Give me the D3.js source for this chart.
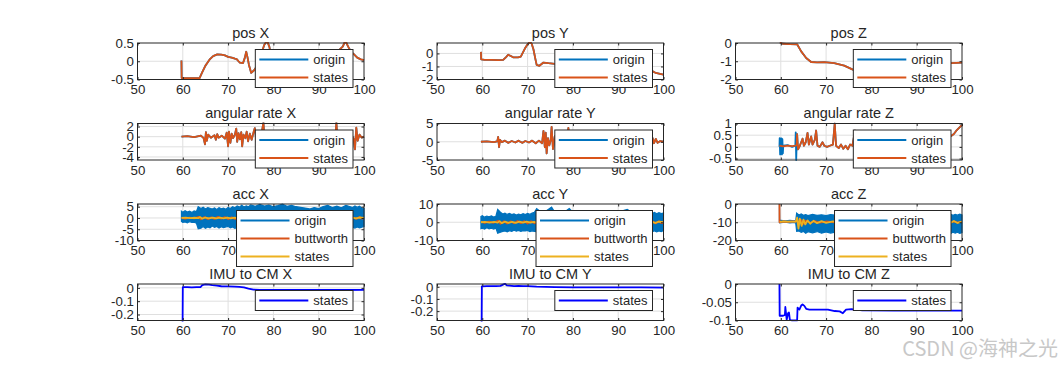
<!DOCTYPE html>
<html>
<head>
<meta charset="utf-8">
<script src="https://cdn.jsdelivr.net/npm/d3@7"></script>
<style>
  body { margin: 0; background: #fff; }
  text { font-family: "Liberation Sans", Arial, sans-serif; fill: #262626; }
</style>
</head>
<body>
<svg id="fig" width="1063" height="367"></svg>
<script>
// ---- data: [time, value] ----
var xTicks = [50, 60, 70, 80, 90, 100];

var posX = [[59.7,0.02],[59.75,-0.46],[61,-0.46],[62.5,-0.46],[63.7,-0.46],[64.3,-0.3],[65,-0.12],[65.4,-0.05],[66,0.06],[66.7,0.14],
  [67.6,0.19],[68.5,0.18],[69.3,0.16],[70,0.12],[70.8,0.1],[71.5,0.07],[71.9,0.06],[72.3,0.0],[72.6,-0.04],[73.3,-0.05],
  [73.7,0.1],[74,0.26],[74.3,0.1],[74.6,-0.1],[75.1,-0.32],[75.8,-0.24],[76.5,-0.1],[77.3,0.2],[78,0.45],[78.6,0.56],
  [79.1,0.4],[79.6,0.1],[80.5,-0.1],[82,0.0],[84,0.1],[86,0.05],[88,-0.1],[90,0.0],[92,0.15],[94,0.25],[95.3,0.4],
  [95.9,0.56],[96.5,0.4],[97.2,0.25],[97.7,0.2],[98.5,0.1],[99.3,0.05],[100,0.03]];

var posY = [[59.7,0.12],[59.75,-0.45],[60.5,-0.5],[62,-0.5],[63.5,-0.52],[64.6,-0.5],[65.2,-0.3],[65.7,-0.1],[66.3,-0.2],[66.8,-0.3],
  [67.9,-0.3],[68.5,-0.25],[69.4,0.37],[70,0.7],[70.5,0.87],[70.9,0.75],[71.3,0.3],[71.7,-0.4],[72,-0.88],[72.6,-0.95],
  [73.5,-0.7],[74.6,-0.75],[76,-0.8],[78,-0.9],[80,-1.0],[84,-1.1],[88,-1.2],[92,-1.25],[95,-1.3],[97,-1.3],
  [97.7,-1.38],[98.3,-1.5],[99,-1.55],[100,-1.63]];

var posZ = [[59.8,0.03],[60.4,-0.04],[62,-0.06],[63.6,-0.07],[64.5,-0.46],[65.6,-0.82],[66.7,-1.04],[68,-1.06],[69.6,-1.05],[71.8,-1.1],
  [74,-1.24],[75.9,-1.46],[78,-1.55],[80,-1.5],[84,-1.35],[88,-1.25],[92,-1.15],[95,-1.1],[97.6,-1.1],[100,-1.07]];

var rateX = [[59.7,0],[61,0.1],[62.5,-0.1],[64,0.2],[64.6,-0.3],[64.9,-1.5],[65.1,0.9],[65.3,-0.8],[65.6,0.4],[66.2,-0.2],
  [67,0.3],[67.3,-0.6],[67.6,0.5],[67.9,-0.2],[68.6,0.2],[69.3,-0.4],[69.7,0.8],[70.0,-1.9],[70.2,1.0],[70.5,-1.2],
  [70.8,0.6],[71.1,-0.3],[71.5,0.4],[71.8,1.6],[72.0,-1.0],[72.3,0.7],[72.6,-0.5],[72.9,0.9],[73.1,-1.9],[73.4,0.4],
  [73.8,-0.3],[74.1,1.0],[74.4,-0.9],[74.8,0.6],[75.2,-0.6],[75.6,0.8],[75.9,1.7],[76.3,-1.2],[76.7,0.9],[77.1,-0.5],
  [77.5,1.2],[77.8,2.8],[78.1,-1.5],[78.5,0.6],[79,-0.4],[80,0.5],[81.5,-0.8],[83,0.6],[85,-0.5],[87,0.4],
  [89,-0.6],[91,0.7],[93,0.5],[93.6,-1.2],[93.9,2.8],[94.2,-1.0],[94.6,0.6],[95.2,-0.3],[96,0.4],[96.8,-0.5],
  [97.3,0.3],[97.7,-0.4],[98.0,-2.5],[98.3,1.8],[98.6,-0.8],[99,0.4],[99.5,-0.2],[100,0]];

var rateY = [[59.7,0],[61,0.1],[62.5,-0.1],[63.3,0.1],[63.5,1.3],[63.7,-1.5],[63.9,0.5],[64.3,-0.1],[65,0.3],[65.7,-0.3],
  [66.5,0.2],[67.3,-0.2],[68,0.3],[68.8,-0.3],[69.5,0.2],[70.3,-0.2],[71,0.3],[71.8,-0.4],[72.5,0.3],[73.2,-0.4],
  [73.5,3.0],[73.8,-1.5],[74.0,2.5],[74.2,-3.2],[74.5,1.0],[74.8,-1.0],[75.1,0.5],[75.3,4.1],[75.6,-2.0],[76,1.5],
  [76.5,-1],[77,0.8],[77.5,-0.6],[78,1.2],[78.6,-0.8],[79.0,3.8],[79.3,-1.0],[80,0.5],[82,-0.4],[84,0.3],
  [86,-0.3],[88,0.4],[90,-0.3],[92,0.3],[94,-0.3],[96,0.4],[97.3,-0.2],[97.6,1.0],[97.9,-0.4],[98.3,0.8],
  [98.7,-0.3],[99.3,0.2],[100,0]];

var rateZ = [[63.5,0.1],[63.6,0.55],[63.8,-0.1],[64.2,0.05],[64.8,0.35],[65.1,0.05],[65.5,0.2],[65.9,0.6],[66.2,0.1],[66.7,0.45],
  [67.0,0.1],[67.5,0.3],[67.8,0.7],[68.1,0.05],[68.6,0.0],[69.2,0.2],[69.6,0.05],[70.2,0.0],[70.8,0.05],[71.5,0.1],
  [71.9,1.0],[72.2,0.05],[72.8,-0.05],[73.3,0.1],[73.8,-0.08],[74.3,0.05],[74.8,-0.1],[75.3,0.1],[75.8,0.05],[76.4,0.7],
  [76.8,0.1],[78,0.2],[80,0.3],[82,0.4],[84.6,0.65],[85,0.3],[88,0.2],[91,0.3],[94,0.35],[96,0.4],
  [97.6,0.47],[98.2,0.55],[98.7,0.68],[99.3,0.8],[99.8,0.9],[100,0.92]];
var rateZStart = [[59.7,0.05],[60.5,0.02],[61.5,0.05],[62.5,0.03],[63.3,0.05]];
var rateZBurst = [[59.7,0],[59.75,0.37],[59.85,-0.32],[59.95,0.35],[60.05,-0.3],[60.15,0.36],[60.25,-0.32],[60.35,0.33],
  [60.45,-0.28],[60.55,0.05],[61.5,0.08],[62.5,0.0],[63.2,0.05],[63.3,0.62],[63.4,-0.56]];

// acc "origin" noise envelope: [time, high, low]
var accXBand = [[59.7,3.0,-1.5],[60,2.5,-2.0],[60.5,3.2,-1.8],[61,2.6,-2.2],[61.5,3.0,-1.6],[62,2.4,-2.0],[62.5,3.1,-1.9],[63,2.8,-2.3],
  [63.4,5.0,-4.8],[64,4.2,-4.5],[64.5,4.8,-3.8],[65,4.0,-4.6],[65.5,4.6,-4.0],[66,4.3,-4.4],[66.5,4.0,-3.6],[67,4.5,-4.2],
  [67.5,3.8,-3.8],[68,4.6,-4.5],[68.5,4.1,-3.9],[69,4.4,-4.3],[69.5,3.9,-4.0],[70,4.7,-3.7],[70.5,4.2,-4.4],[71,5.0,-4.0],
  [71.5,4.5,-4.6],[72,5.3,-4.3],[72.5,4.8,-4.5],[73,5.6,-4.6],[73.5,4.9,-4.2],[74,5.4,-4.8],[74.5,5.0,-4.5],[75,5.8,-4.4],
  [76,5.2,-4.7],[77,6.0,-4.8],[78,5.3,-4.5],[79,5.7,-4.6],[80,5.0,-4.4],[81,5.5,-4.7],[82,6.1,-4.8],[83,5.2,-4.5],
  [84,5.6,-4.6],[85,5.0,-4.4],[86,4.7,-4.5],[87,4.4,-4.3],[88,4.0,-4.2],[89,4.6,-4.4],[90,4.2,-4.5],[91,5.1,-4.6],
  [92,5.6,-4.7],[93,4.6,-4.4],[94,5.2,-4.6],[95,4.5,-4.3],[96,5.6,-4.5],[97,5.0,-4.4],[97.5,4.6,-4.2],[98,5.3,-4.5],
  [98.5,4.7,-4.0],[99,5.2,-4.4],[99.5,4.4,-4.1],[100,4.2,-3.8]];
var accXButt = [[59.7,0.2],[60.5,-0.3],[61.5,0.2],[62.5,-0.2],[63.5,0.5],[64,-0.6],[64.8,0.4],[65.5,-0.5],[66.3,0.3],[67,-0.4],
  [67.8,0.5],[68.5,-0.3],[69.3,0.4],[70,-0.5],[70.8,0.3],[71.5,-0.4],[72.3,0.5],[73,-0.3],[74,0.4],[76,-0.4],
  [78,0.3],[80,-0.3],[84,0.3],[88,-0.3],[92,0.3],[96,-0.3],[97.5,0.3],[98.3,-0.4],[99,0.4],[99.6,-0.3],[100,0.1]];
var accXStates = [[59.7,0],[60.6,0.15],[61.6,-0.1],[62.6,0.1],[63.4,-0.1],[63.8,0.4],[64.3,-0.3],[65,0.2],[65.8,-0.2],[66.6,0.15],
  [67.4,-0.2],[68.2,0.2],[69,-0.15],[69.8,0.2],[70.6,-0.15],[71.4,0.15],[72.2,-0.2],[74,0.15],[76,-0.15],[80,0.1],
  [85,-0.1],[90,0.1],[95,-0.1],[97.4,0.15],[98.2,-0.2],[99,0.2],[100,0]];

var accYBand = [[59.7,3.2,-3.5],[60,3.6,-3.2],[60.5,2.8,-3.8],[61,3.4,-3.0],[61.5,3.0,-3.6],[62,3.5,-3.3],[62.5,2.9,-3.7],[63,3.3,-3.2],
  [63.4,7.0,-6.0],[64,5.5,-5.5],[64.5,4.5,-5.0],[65,5.0,-4.8],[65.5,4.3,-5.2],[66,4.8,-4.6],[66.5,4.2,-5.0],[67,4.6,-4.4],
  [67.5,4.0,-4.9],[68,4.5,-4.5],[68.5,4.1,-5.0],[69,4.7,-4.6],[69.5,4.2,-4.8],[70,4.8,-4.5],[70.5,4.4,-5.1],[71,5.0,-4.7],
  [71.5,5.5,-5.0],[72,7.5,-5.2],[73,5.5,-5.0],[74,6.0,-5.3],[75.3,8.3,-5.5],[76,5.5,-5.0],[77,6.2,-5.2],[78,5.4,-5.0],
  [79.2,7.5,-5.3],[80,5.5,-5.0],[82,5.8,-5.1],[84,5.3,-5.0],[86,5.6,-5.2],[88,5.2,-4.9],[90,5.6,-5.1],[92,7.0,-5.2],
  [93,5.5,-5.0],[95,5.4,-4.9],[97,5.2,-5.0],[97.5,4.8,-5.3],[98,5.4,-4.7],[98.5,4.6,-5.2],[99,5.2,-4.8],[99.5,4.7,-5.1],[100,5.0,-4.6]];
var accYButt = [[59.7,0.3],[60.5,-0.4],[61.5,0.3],[62.5,-0.3],[63.5,0.8],[64,-0.8],[64.8,0.6],[65.5,-0.7],[66.3,0.5],[67,-0.6],
  [67.8,0.7],[68.5,-0.5],[69.3,0.6],[70,-0.7],[70.8,0.5],[71.5,-0.6],[72.3,0.7],[73,-0.5],[74,0.6],[76,-0.6],
  [78,0.5],[80,-0.5],[84,0.5],[88,-0.5],[92,0.5],[96,-0.5],[97.5,0.5],[98.3,-0.6],[99,0.6],[99.6,-0.5],[100,0.2]];
var accYStates = [[59.7,0],[60.6,0.25],[61.6,-0.2],[62.6,0.2],[63.4,-0.2],[63.8,0.6],[64.3,-0.5],[65,0.3],[65.8,-0.3],[66.6,0.25],
  [67.4,-0.3],[68.2,0.3],[69,-0.25],[69.8,0.3],[70.6,-0.25],[71.4,0.25],[72.2,-0.3],[74,0.25],[76,-0.25],[80,0.2],
  [85,-0.2],[90,0.2],[95,-0.2],[97.4,0.25],[98.2,-0.3],[99,0.3],[100,0]];

var accZBand = [[59.7,0,-10],[59.75,-9.0,-10.3],[60,-9.0,-10.2],[61,-9.2,-10.0],[62,-9.0,-10.3],[63,-9.2,-10.1],[63.3,-9.0,-10.5],
  [63.5,-5.0,-15.0],[64,-6.0,-14.8],[64.5,-5.5,-15.5],[65,-6.2,-15.0],[65.5,-5.8,-16.0],[66,-6.3,-15.2],[67,-5.7,-15.8],
  [68,-6.2,-15.1],[69,-5.9,-16.0],[70,-6.4,-15.3],[71,-5.8,-15.9],[72,-6.1,-15.4],[73,-5.6,-16.2],[74,-6.0,-15.5],
  [76,-5.8,-16.0],[78,-6.2,-15.5],[80,-5.7,-16.0],[84,-6.0,-15.6],[88,-5.8,-16.1],[92,-6.1,-15.5],[95,-5.9,-16.0],
  [97,-6.0,-15.7],[97.5,-5.6,-16.2],[98,-6.2,-15.4],[98.5,-5.7,-16.0],[99,-6.1,-15.5],[99.5,-5.6,-16.1],[100,-6.0,-15.6]];
var accZButt = [[59.7,0],[59.72,-10],[60.5,-9.6],[61.5,-9.8],[62.5,-9.6],[63.3,-9.7],[63.6,-8.5],[64,-11],[64.5,-8.8],[65,-10.8],
  [65.5,-9.2],[66.5,-10.3],[67.5,-9.4],[68.5,-10.2],[70,-9.6],[72,-10.1],[74,-9.6],[78,-10.0],[84,-9.7],[90,-10.0],
  [96,-9.7],[97.5,-10.1],[98.3,-9.5],[99,-10.2],[100,-9.8]];
var accZStates = [[59.75,-9.8],[60.5,-9.5],[62,-9.7],[63.3,-9.6],[63.6,-7.5],[63.9,-13.5],[64.2,-8.0],[64.6,-12.0],[65,-8.6],[65.4,-11.2],
  [65.9,-9.0],[66.5,-10.8],[67.2,-9.2],[68,-10.5],[69,-9.4],[70,-10.3],[71.5,-9.5],[73,-10.2],[76,-9.6],[80,-10.1],
  [85,-9.7],[90,-10.1],[95,-9.7],[97.5,-10.3],[98.2,-9.3],[99,-10.4],[100,-9.7]];

var imuX = [[59.95,-0.3],[60,0.005],[61,0.006],[62,0.004],[63,0.006],[63.9,0.005],[64.3,0.02],[65,0.026],[65.8,0.024],[66.5,0.02],
  [67.5,0.017],[68.5,0.012],[70,0.011],[71.5,0.01],[72.5,0.008],[73.5,0.004],[74.5,-0.005],[75.6,-0.013],[77,-0.015],[80,-0.015],
  [85,-0.016],[90,-0.015],[95,-0.016],[100,-0.015]];
var imuY = [[59.85,-0.3],[59.9,0.004],[61,0.005],[63,0.006],[64,0.008],[64.7,0.02],[65,0.025],[65.4,0.012],[66,0.01],[67,0.006],
  [68,0.008],[69,0.005],[70,0.006],[72,0.002],[74,0.0],[76,-0.002],[80,-0.004],[85,-0.004],[90,-0.005],[95,-0.004],[100,-0.006]];
var imuZ = [[59.7,0],[59.75,-0.087],[60.5,-0.087],[60.9,-0.085],[61.0,-0.063],[61.15,-0.08],[61.3,-0.098],[61.6,-0.08],[61.8,-0.078],
  [62.0,-0.098],[62.4,-0.1],[63.0,-0.1],[63.6,-0.1],[63.7,-0.065],[64.1,-0.07],[64.5,-0.059],[64.8,-0.056],[65.2,-0.06],
  [65.6,-0.068],[66.3,-0.07],[68,-0.07],[70.4,-0.07],[71.9,-0.074],[73,-0.075],[73.7,-0.08],[74.4,-0.07],[75.6,-0.069],
  [78,-0.072],[85,-0.073],[92,-0.073],[98,-0.073],[100,-0.073]];

var blue = "#0072BD", orange = "#D95319", yellow = "#EDB120", pure = "#0000FF";

// panels, row by row
var panels = [
  {title: "pos X", ylim: [-0.5, 0.5], yticks: [-0.5, 0, 0.5],
   lines: [{d: posX, c: blue, name: "origin"}, {d: posX, c: orange, name: "states"}]},
  {title: "pos Y", ylim: [-2, 0.8], yticks: [-2, -1, 0],
   lines: [{d: posY, c: blue, name: "origin"}, {d: posY, c: orange, name: "states"}]},
  {title: "pos Z", ylim: [-2, 0], yticks: [-2, -1, 0],
   lines: [{d: posZ, c: blue, name: "origin"}, {d: posZ, c: orange, name: "states"}]},
  {title: "angular rate X", ylim: [-4.6, 2.6], yticks: [-4, -2, 0, 2],
   lines: [{d: rateX, c: blue, name: "origin"}, {d: rateX, c: orange, name: "states"}]},
  {title: "angular rate Y", ylim: [-5, 5], yticks: [-5, 0, 5],
   lines: [{d: rateY, c: blue, name: "origin"}, {d: rateY, c: orange, name: "states"}]},
  {title: "angular rate Z", ylim: [-0.56, 1.0], yticks: [-0.5, 0, 0.5, 1],
   lines: [{d: rateZBurst.concat(rateZ), c: blue, name: "origin"}, {d: rateZStart.concat(rateZ), c: orange, name: "states"}]},
  {title: "acc X", ylim: [-10, 6.2], yticks: [-10, -5, 0, 5], band: accXBand,
   lines: [{band: true, c: blue, name: "origin"}, {d: accXButt, c: orange, name: "buttworth"}, {d: accXStates, c: yellow, name: "states"}]},
  {title: "acc Y", ylim: [-10, 10], yticks: [-10, 0, 10], band: accYBand,
   lines: [{band: true, c: blue, name: "origin"}, {d: accYButt, c: orange, name: "buttworth"}, {d: accYStates, c: yellow, name: "states"}]},
  {title: "acc Z", ylim: [-20, 0], yticks: [-20, -10, 0], band: accZBand,
   lines: [{band: true, c: blue, name: "origin"}, {d: accZButt, c: orange, name: "buttworth"}, {d: accZStates, c: yellow, name: "states"}]},
  {title: "IMU to CM X", ylim: [-0.245, 0.029], yticks: [-0.2, -0.1, 0],
   lines: [{d: imuX, c: pure, name: "states"}]},
  {title: "IMU to CM Y", ylim: [-0.277, 0.023], yticks: [-0.2, -0.1, 0],
   lines: [{d: imuY, c: pure, name: "states"}]},
  {title: "IMU to CM Z", ylim: [-0.1, 0], yticks: [-0.1, -0.05, 0],
   lines: [{d: imuZ, c: pure, name: "states"}]}
];

// layout (MATLAB subplot 4x3)
var colLeft = [137.5, 437, 735.5], axW = 226.5;
var rowTop = [43, 123.5, 204, 284], axH = 36.5;

var svg = d3.select("#fig");
svg.append("rect").attr("width", 1063).attr("height", 367).attr("fill", "#fff");
var axesLayer = svg.append("g");
var legendLayer = svg.append("g");

panels.forEach(function(p, i) {
  var col = i % 3, row = Math.floor(i / 3);
  var g = axesLayer.append("g")
    .attr("transform", "translate(" + colLeft[col] + "," + rowTop[row] + ")");

  var x = d3.scaleLinear().domain([50, 100]).range([0, axW]);
  var y = d3.scaleLinear().domain(p.ylim).range([axH, 0]);

  g.append("rect").attr("width", axW).attr("height", axH).attr("fill", "#fff");

  // grid
  g.selectAll(".gx").data(xTicks.slice(1, -1)).enter().append("line")
    .attr("x1", d => x(d)).attr("x2", d => x(d)).attr("y1", 0).attr("y2", axH)
    .attr("stroke", "#dfdfdf").attr("stroke-width", 1);
  g.selectAll(".gy").data(p.yticks.filter(v => v > p.ylim[0] && v < p.ylim[1])).enter().append("line")
    .attr("x1", 0).attr("x2", axW).attr("y1", d => y(d)).attr("y2", d => y(d))
    .attr("stroke", "#dfdfdf").attr("stroke-width", 1);

  var clipId = "clip" + i;
  g.append("clipPath").attr("id", clipId).append("rect")
    .attr("x", -1).attr("y", -1).attr("width", axW + 2).attr("height", axH + 2);
  var plot = g.append("g").attr("clip-path", "url(#" + clipId + ")");

  var line = d3.line().x(d => x(d[0])).y(d => y(d[1]));
  p.lines.forEach(function(s) {
    if (s.band) {
      var area = d3.area().x(d => x(d[0])).y0(d => y(d[2])).y1(d => y(d[1]));
      plot.append("path").attr("d", area(p.band))
        .attr("fill", s.c).attr("stroke", s.c).attr("stroke-width", 1.2)
        .attr("stroke-linejoin", "miter");
    } else {
      plot.append("path").attr("d", line(s.d))
        .attr("fill", "none").attr("stroke", s.c).attr("stroke-width", 1.8)
        .attr("stroke-linejoin", "round");
    }
  });

  // axes with inward ticks
  var bottom = g.append("g").attr("transform", "translate(0," + axH + ")")
    .call(d3.axisBottom(x).tickValues(xTicks).tickSize(-2.5).tickPadding(5.5));
  var left = g.append("g")
    .call(d3.axisLeft(y).tickValues(p.yticks).tickSize(-2.5).tickPadding(3.5).tickFormat(d => String(d)));
  var top = g.append("g").call(d3.axisTop(x).tickValues(xTicks).tickSize(-2.5).tickFormat(""));
  var right = g.append("g").attr("transform", "translate(" + axW + ",0)")
    .call(d3.axisRight(y).tickValues(p.yticks).tickSize(-2.5).tickFormat(""));
  [bottom, left, top, right].forEach(function(a) {
    a.select(".domain").remove();
    a.selectAll(".tick line").attr("stroke", "#262626");
    a.selectAll(".tick text").attr("fill", "#262626")
      .style("font-family", "'Liberation Sans', Arial, sans-serif").style("font-size", "13.3px");
  });

  g.append("rect").attr("width", axW).attr("height", axH)
    .attr("fill", "none").attr("stroke", "#262626").attr("stroke-width", 1);

  g.append("text").attr("x", axW / 2).attr("y", -5.5)
    .attr("text-anchor", "middle").style("font-size", "14.5px").text(p.title);

  // legend (northeast)
  var lg = legendLayer.append("g");
  var rowH = 18;
  var items = lg.selectAll("g").data(p.lines).enter().append("g")
    .attr("transform", (d, k) => "translate(0," + (10 + k * rowH) + ")");
  items.append("line").attr("x1", 4).attr("x2", 53).attr("y1", 0).attr("y2", 0)
    .attr("stroke", d => d.c).attr("stroke-width", 1.8);
  var texts = items.append("text").attr("x", 58).attr("dy", "0.35em")
    .style("font-size", "13px").text(d => d.name);
  var tw = 0;
  texts.each(function() { tw = Math.max(tw, this.getComputedTextLength()); });
  var lw = 58 + tw + 5, lh = p.lines.length * rowH + 2;
  lg.insert("rect", ":first-child").attr("width", lw).attr("height", lh)
    .attr("fill", "#fff").attr("stroke", "#262626").attr("stroke-width", 1);
  lg.attr("transform", "translate(" + (colLeft[col] + axW - 11 - lw) + "," + (rowTop[row] + 6.5) + ")");
});

// watermark
svg.append("text").attr("x", 1058).attr("y", 356).attr("text-anchor", "end")
  .style("font-family", "'Noto Sans CJK SC', 'Noto Sans', sans-serif").style("font-size", "20px")
  .style("fill", "#c8c8c8").text("CSDN @海神之光");
</script>
</body>
</html>
